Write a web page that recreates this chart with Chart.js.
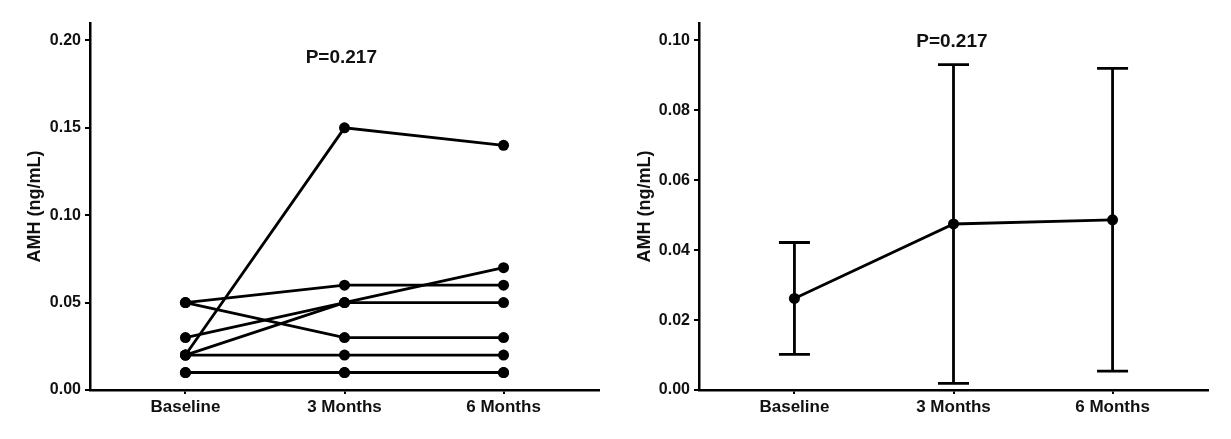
<!DOCTYPE html>
<html>
<head>
<meta charset="utf-8">
<script src="https://cdn.jsdelivr.net/npm/chart.js@4.4.1/dist/chart.umd.min.js"></script>
<style>
  html, body { margin: 0; padding: 0; background: #fff; }
  #wrap { position: relative; width: 1231px; height: 439px; }
  #c1 { position: absolute; left: 0; top: 0; }
  #c2 { position: absolute; left: 615px; top: 0; }
</style>
</head>
<body>
<div id="wrap">
  <canvas id="c1" width="615" height="439"></canvas>
  <canvas id="c2" width="616" height="439"></canvas>
</div>
<script>
// ---- Data ----
const categories = ['Baseline', '3 Months', '6 Months'];
const subject1 = [0.02, 0.15, 0.14];
const subject2 = [0.05, 0.06, 0.06];
const subject3 = [0.05, 0.03, 0.03];
const subject4 = [0.03, 0.05, 0.05];
const subject5 = [0.02, 0.05, 0.07];
const subject6 = [0.02, 0.02, 0.02];
const subject7 = [0.01, 0.01, 0.01];
const subject8 = [0.01, 0.01, 0.01];
const meanValues = [0.0262, 0.0475, 0.0487];
const sdValues = [0.0160, 0.0456, 0.0433];
const yTicksLeft = [0.00, 0.05, 0.10, 0.15, 0.20];
const yTicksRight = [0.00, 0.02, 0.04, 0.06, 0.08, 0.10];
const pText = 'P=0.217';
const yTitle = 'AMH (ng/mL)';

const FONT = "'Liberation Sans', Arial, sans-serif";
const TXT = '#111';

function toXY(arr) { return arr.map((v, i) => ({ x: i, y: v })); }

function makeScales(yMax, yTicks, yWidth) {
  return {
    x: {
      type: 'linear', min: -0.6, max: 2.6,
      afterBuildTicks: s => { s.ticks = categories.map((c, i) => ({ value: i })); },
      afterFit: s => { s.height = 49; },
      border: { color: '#000', width: 2.5 },
      grid: { display: true, drawOnChartArea: false, drawTicks: true, tickLength: 4, color: '#000', lineWidth: 2 },
      ticks: {
        padding: 3, color: TXT, autoSkip: false, maxRotation: 0,
        font: { family: FONT, size: 17, weight: 'bold' },
        callback: v => categories[v] !== undefined ? categories[v] : ''
      }
    },
    y: {
      type: 'linear', min: 0, max: yMax,
      afterBuildTicks: s => { s.ticks = yTicks.map(v => ({ value: v })); },
      afterFit: s => { s.width = yWidth; },
      border: { color: '#000', width: 2.5 },
      grid: { display: true, drawOnChartArea: false, drawTicks: true, tickLength: 5, color: '#000', lineWidth: 2 },
      ticks: {
        padding: 4, color: TXT,
        font: { family: FONT, size: 16, weight: 'bold' },
        callback: v => Number(v).toFixed(2)
      },
      title: {
        display: true, text: yTitle, color: TXT,
        font: { family: FONT, size: 18, weight: 'bold' },
        padding: { top: 0, bottom: 0 }
      }
    }
  };
}

function pLabelPlugin(xVal, yVal) {
  return {
    id: 'plabel',
    afterDraw(chart) {
      const ctx = chart.ctx;
      const x = chart.scales.x.getPixelForValue(xVal);
      const y = chart.scales.y.getPixelForValue(yVal);
      ctx.save();
      ctx.font = 'bold 19px ' + FONT;
      ctx.fillStyle = TXT;
      ctx.textAlign = 'center';
      ctx.textBaseline = 'middle';
      ctx.fillText(pText, x, y);
      ctx.restore();
    }
  };
}

const errorBarPlugin = {
  id: 'errbars',
  beforeDatasetsDraw(chart) {
    const ctx = chart.ctx;
    const xs = chart.scales.x, ys = chart.scales.y;
    ctx.save();
    ctx.strokeStyle = '#000';
    ctx.lineWidth = 2.8;
    meanValues.forEach((m, i) => {
      const px = xs.getPixelForValue(i);
      const top = ys.getPixelForValue(m + sdValues[i]);
      const bot = ys.getPixelForValue(m - sdValues[i]);
      ctx.beginPath();
      ctx.moveTo(px, top); ctx.lineTo(px, bot);
      ctx.moveTo(px - 15.5, top); ctx.lineTo(px + 15.5, top);
      ctx.moveTo(px - 15.5, bot); ctx.lineTo(px + 15.5, bot);
      ctx.stroke();
    });
    ctx.restore();
  }
};

const subjects = [subject1, subject2, subject3, subject4, subject5, subject6, subject7, subject8];

function lineDs(arr) {
  return {
    data: toXY(arr), borderColor: '#000', backgroundColor: '#000',
    borderWidth: 2.8, pointRadius: 5.5, pointHoverRadius: 5.5,
    pointBackgroundColor: '#000', pointBorderColor: '#000', pointBorderWidth: 0,
    tension: 0, clip: false
  };
}

const commonOpts = {
  responsive: false, animation: false,
  plugins: { legend: { display: false }, tooltip: { enabled: false } },
  events: []
};

new Chart(document.getElementById('c1'), {
  type: 'line',
  data: { datasets: subjects.map(lineDs) },
  options: Object.assign({}, commonOpts, {
    layout: { padding: { left: 24, top: 23, right: 16, bottom: 0 } },
    scales: makeScales(0.21, yTicksLeft, 66)
  }),
  plugins: [pLabelPlugin(0.98, 0.190)]
});

new Chart(document.getElementById('c2'), {
  type: 'line',
  data: { datasets: [lineDs(meanValues)] },
  options: Object.assign({}, commonOpts, {
    layout: { padding: { left: 19, top: 23, right: 23, bottom: 0 } },
    scales: makeScales(0.105, yTicksRight, 65)
  }),
  plugins: [errorBarPlugin, pLabelPlugin(0.99, 0.0997)]
});
</script>
</body>
</html>
